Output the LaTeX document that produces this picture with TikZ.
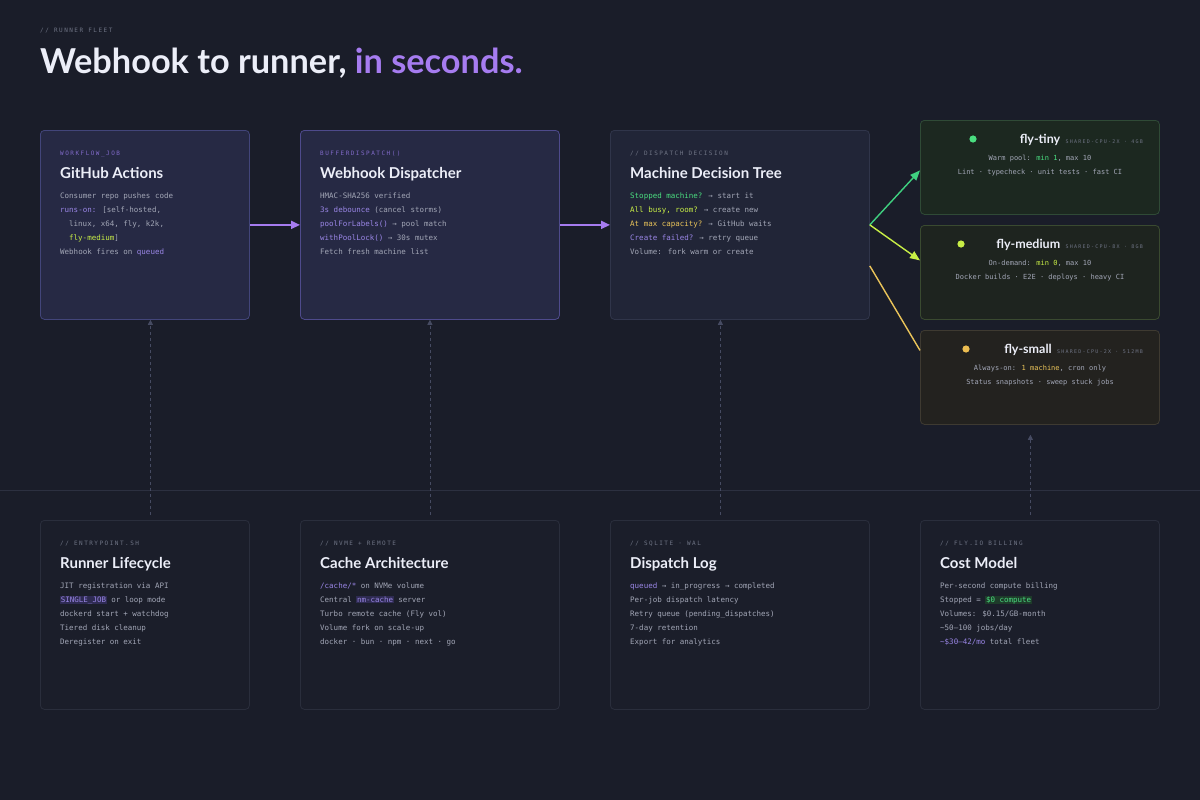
\documentclass[tikz,border=0pt]{standalone}
\usepackage{fontspec}
\usepackage{xcolor}
\usetikzlibrary{arrows.meta}
\setmainfont{Lato}
\newfontfamily\headfont{Lato}
\newfontfamily\monofont{DejaVu Sans Mono}
\newfontfamily\lblfont[LetterSpace=25]{DejaVu Sans Mono}
\definecolor{bg}{HTML}{1A1D29}
\definecolor{txtw}{HTML}{ECEEF8}
\definecolor{body}{HTML}{A2A6B6}
\definecolor{lbl}{HTML}{6E7384}
\definecolor{purp}{HTML}{A67CF0}
\definecolor{tpurp}{HTML}{9A86E6}
\definecolor{lpurp}{HTML}{8069C8}
\definecolor{grn}{HTML}{4ADE80}
\definecolor{lime}{HTML}{C8EE46}
\definecolor{yel}{HTML}{EAC45A}
\definecolor{hlp}{HTML}{2E2B52}
\definecolor{hlg}{HTML}{1E3B2A}
\definecolor{divider}{HTML}{2C3040}
\definecolor{dashc}{HTML}{464B62}
\definecolor{boxonefill}{HTML}{262944}
\definecolor{boxonedraw}{HTML}{42457A}
\definecolor{boxtwofill}{HTML}{262944}
\definecolor{boxtwodraw}{HTML}{4E4A8C}
\definecolor{dtfill}{HTML}{212537}
\definecolor{dtdraw}{HTML}{30354A}
\definecolor{tinyfill}{HTML}{1C2820}
\definecolor{tinydraw}{HTML}{2F4A36}
\definecolor{medfill}{HTML}{1E241F}
\definecolor{meddraw}{HTML}{3A4A30}
\definecolor{smallfill}{HTML}{23221F}
\definecolor{smalldraw}{HTML}{3E3A31}
\definecolor{botfill}{HTML}{1B1E2A}
\definecolor{botdraw}{HTML}{2A2E3C}
\newcommand{\hlbox}[3]{{\setlength{\fboxsep}{0.7pt}\colorbox{#1}{\textcolor{#2}{#3}}}}
\tikzset{
  cardbase/.style={anchor=north west, rounded corners=4pt, line width=0.8pt, inner sep=0pt},
  lbltext/.style={anchor=base west, inner sep=0pt, font=\lblfont\fontsize{6}{7}\selectfont, text=lbl},
  headtext/.style={anchor=base west, inner sep=0pt, font=\headfont\bfseries\fontsize{15}{18}\selectfont, text=txtw},
  bodytext/.style={anchor=base west, inner sep=0pt, font=\monofont\fontsize{7.5}{9}\selectfont, text=body},
  cbody/.style={anchor=base, inner sep=0pt, font=\monofont\fontsize{7}{9}\selectfont, text=body},
  flytitle/.style={anchor=base east, inner sep=0pt, font=\headfont\bfseries\fontsize{12.5}{14}\selectfont, text=txtw},
  flyspec/.style={anchor=base east, inner sep=0pt, font=\lblfont\fontsize{5}{6}\selectfont, text=lbl},
  flowarrow/.style={line width=1.8pt, draw=#1, -{Triangle[length=9pt,width=8pt,fill=#1]}},
  uplink/.style={line width=0.8pt, draw=dashc, dash pattern=on 3pt off 3pt, -{Triangle[length=5pt,width=5pt,fill=dashc]}},
}
\begin{document}
\begin{tikzpicture}[x=1pt,y=-1pt]
\useasboundingbox (0,0) rectangle (1200,800);
\fill[bg] (0,0) rectangle (1200,800);
% header
\node[lbltext] (kicker) at (40,33) {// RUNNER FLEET};
\node[anchor=base west, inner sep=0pt, font=\headfont\bfseries\fontsize{34.3}{40}\selectfont, text=txtw] (title) at (40,74) {Webhook to runner, \textcolor{purp}{in seconds.}};
% divider
\draw[divider, line width=0.8pt] (0,490) -- (1200,490);
% top row boxes
\node[cardbase, fill=boxonefill, draw=boxonedraw, minimum width=209pt, minimum height=189pt] (b1) at (40,130) {};
\node[cardbase, fill=boxtwofill, draw=boxtwodraw, minimum width=259pt, minimum height=189pt] (b2) at (300,130) {};
\node[cardbase, fill=dtfill, draw=dtdraw, minimum width=259pt, minimum height=189pt] (b3) at (610,130) {};
% fly cards
\node[cardbase, fill=tinyfill, draw=tinydraw, minimum width=239pt, minimum height=94pt] (tiny) at (920,120) {};
\node[cardbase, fill=medfill, draw=meddraw, minimum width=239pt, minimum height=94pt] (medium) at (920,225) {};
\node[cardbase, fill=smallfill, draw=smalldraw, minimum width=239pt, minimum height=94pt] (small) at (920,330) {};
% bottom boxes
\node[cardbase, fill=botfill, draw=botdraw, minimum width=209pt, minimum height=189pt] (c1) at (40,520) {};
\node[cardbase, fill=botfill, draw=botdraw, minimum width=259pt, minimum height=189pt] (c2) at (300,520) {};
\node[cardbase, fill=botfill, draw=botdraw, minimum width=259pt, minimum height=189pt] (c3) at (610,520) {};
\node[cardbase, fill=botfill, draw=botdraw, minimum width=239pt, minimum height=189pt] (c4) at (920,520) {};

% box 1 text
\node[lbltext, text=lpurp] (b1l) at (60,155) {WORKFLOW\_JOB};
\node[headtext] (b1h) at (60,178) {GitHub Actions};
\node[bodytext] (b1a) at (60,198) {Consumer repo pushes code};
\node[bodytext] (b1b) at (60,212) {\textcolor{tpurp}{runs-on:} [self-hosted,};
\node[bodytext] (b1c) at (69,226) {linux, x64, fly, k2k,};
\node[bodytext] (b1d) at (69,240) {\textcolor{lime}{fly-medium}]};
\node[bodytext] (b1e) at (60,254) {Webhook fires on \textcolor{tpurp}{queued}};
% box 2 text
\node[lbltext, text=lpurp] (b2l) at (320,155) {BUFFERDISPATCH()};
\node[headtext] (b2h) at (320,178) {Webhook Dispatcher};
\node[bodytext] (b2a) at (320,198) {HMAC-SHA256 verified};
\node[bodytext] (b2b) at (320,212) {\textcolor{tpurp}{3s debounce} (cancel storms)};
\node[bodytext] (b2c) at (320,226) {\textcolor{tpurp}{poolForLabels()} → pool match};
\node[bodytext] (b2d) at (320,240) {\textcolor{tpurp}{withPoolLock()} → 30s mutex};
\node[bodytext] (b2e) at (320,254) {Fetch fresh machine list};
% box 3 text
\node[lbltext] (b3l) at (630,155) {// DISPATCH DECISION};
\node[headtext] (b3h) at (630,178) {Machine Decision Tree};
\node[bodytext] (b3a) at (630,198) {\textcolor{grn}{Stopped machine?} → start it};
\node[bodytext] (b3b) at (630,212) {\textcolor{lime}{All busy, room?} → create new};
\node[bodytext] (b3c) at (630,226) {\textcolor{yel}{At max capacity?} → GitHub waits};
\node[bodytext] (b3d) at (630,240) {\textcolor{tpurp}{Create failed?} → retry queue};
\node[bodytext] (b3e) at (630,254) {Volume: fork warm or create};

% fly-tiny
\fill[grn] (973,139) circle (3.6pt);
\node[flyspec] (tinys) at (1143,143) {SHARED-CPU-2X · 4GB};
\node[flytitle] (tinyt) at ([xshift=-5pt]tinys.base west) {fly-tiny};
\node[cbody] (tinya) at (1040,160) {Warm pool: \textcolor{grn}{min 1}, max 10};
\node[cbody] (tinyb) at (1040,174) {Lint · typecheck · unit tests · fast CI};
% fly-medium
\fill[lime] (961,244) circle (3.6pt);
\node[flyspec] (meds) at (1143,248) {SHARED-CPU-8X · 8GB};
\node[flytitle] (medt) at ([xshift=-5pt]meds.base west) {fly-medium};
\node[cbody] (meda) at (1040,265) {On-demand: \textcolor{lime}{min 0}, max 10};
\node[cbody] (medb) at (1040,279) {Docker builds · E2E · deploys · heavy CI};
% fly-small
\fill[yel!90!orange] (966,349) circle (3.6pt);
\node[flyspec] (smalls) at (1143,353) {SHARED-CPU-2X · 512MB};
\node[flytitle] (smallt) at ([xshift=-5pt]smalls.base west) {fly-small};
\node[cbody] (smalla) at (1040,370) {Always-on: \textcolor{yel}{1 machine}, cron only};
\node[cbody] (smallb) at (1040,384) {Status snapshots · sweep stuck jobs};

% bottom box 1
\node[lbltext] (c1l) at (60,545) {// ENTRYPOINT.SH};
\node[headtext] (c1h) at (60,568) {Runner Lifecycle};
\node[bodytext] (c1a) at (60,588) {JIT registration via API};
\node[bodytext] (c1b) at (60,602) {\hlbox{hlp}{tpurp}{SINGLE\_JOB} or loop mode};
\node[bodytext] (c1c) at (60,616) {dockerd start + watchdog};
\node[bodytext] (c1d) at (60,630) {Tiered disk cleanup};
\node[bodytext] (c1e) at (60,644) {Deregister on exit};
% bottom box 2
\node[lbltext] (c2l) at (320,545) {// NVME + REMOTE};
\node[headtext] (c2h) at (320,568) {Cache Architecture};
\node[bodytext] (c2a) at (320,588) {\textcolor{tpurp}{/cache/*} on NVMe volume};
\node[bodytext] (c2b) at (320,602) {Central \hlbox{hlp}{tpurp}{nm-cache} server};
\node[bodytext] (c2c) at (320,616) {Turbo remote cache (Fly vol)};
\node[bodytext] (c2d) at (320,630) {Volume fork on scale-up};
\node[bodytext] (c2e) at (320,644) {docker · bun · npm · next · go};
% bottom box 3
\node[lbltext] (c3l) at (630,545) {// SQLITE · WAL};
\node[headtext] (c3h) at (630,568) {Dispatch Log};
\node[bodytext] (c3a) at (630,588) {\textcolor{tpurp}{queued} → in\_progress → completed};
\node[bodytext] (c3b) at (630,602) {Per-job dispatch latency};
\node[bodytext] (c3c) at (630,616) {Retry queue (pending\_dispatches)};
\node[bodytext] (c3d) at (630,630) {7-day retention};
\node[bodytext] (c3e) at (630,644) {Export for analytics};
% bottom box 4
\node[lbltext] (c4l) at (940,545) {// FLY.IO BILLING};
\node[headtext] (c4h) at (940,568) {Cost Model};
\node[bodytext] (c4a) at (940,588) {Per-second compute billing};
\node[bodytext] (c4b) at (940,602) {Stopped = \hlbox{hlg}{grn}{\$0 compute}};
\node[bodytext] (c4c) at (940,616) {Volumes: \$0.15/GB-month};
\node[bodytext] (c4d) at (940,630) {\textasciitilde 50–100 jobs/day};
\node[bodytext] (c4e) at (940,644) {\textcolor{tpurp}{\textasciitilde \$30–42/mo} total fleet};

% flow arrows
\draw[flowarrow=purp] (b1.east) -- (b2.west);
\draw[flowarrow=purp] (b2.east) -- (b3.west);
\draw[line width=1.4pt, draw=grn!85!teal, -{Triangle[length=10pt,width=8pt,fill=grn!85!teal]}] (b3.east) -- ([yshift=-3pt]tiny.west);
\draw[line width=1.4pt, draw=lime, -{Triangle[length=10pt,width=8pt,fill=lime]}] (b3.east) -- ([yshift=12pt]medium.west);
\draw[line width=1.4pt, draw=yel] ([yshift=-41pt]b3.east) -- ([yshift=27pt]small.west);
% up links
\draw[uplink] ([xshift=5.5pt,yshift=5pt]c1.north) -- ([xshift=5.5pt]b1.south);
\draw[uplink] ([yshift=5pt]c2.north) -- (b2.south);
\draw[uplink] ([xshift=-19.5pt,yshift=5pt]c3.north) -- ([xshift=-19.5pt]b3.south);
\draw[uplink, shorten >=10pt] ([xshift=-9.5pt,yshift=5pt]c4.north) -- ([xshift=-9.5pt]small.south);
\end{tikzpicture}
\end{document}
